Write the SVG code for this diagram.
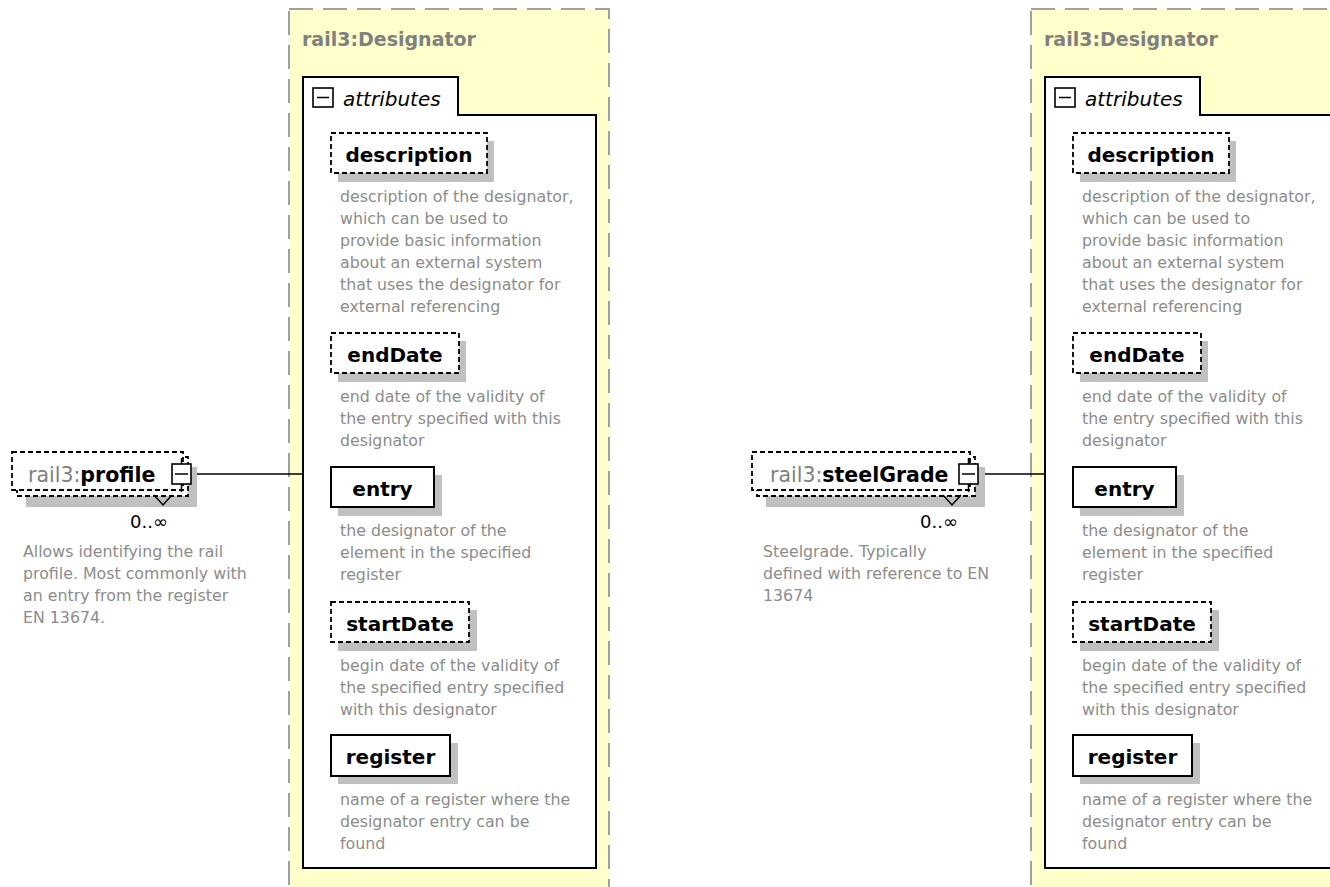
<svg xmlns="http://www.w3.org/2000/svg" width="1330" height="887" viewBox="0 0 1330 887">
<defs>
<style>
.panel{fill:#ffffcc;stroke:#a0a0a0;stroke-width:2;stroke-dasharray:24 10}
.inner{fill:#fff;stroke:#000;stroke-width:2}
.title{font-family:"DejaVu Sans",sans-serif;font-weight:bold;font-size:19px;fill:#808080}
.attr{font-family:"DejaVu Sans",sans-serif;font-style:italic;font-size:20px;fill:#000}
.shadow{fill:#c0c0c0}
.opt{fill:#fff;stroke:#000;stroke-width:1.8;stroke-dasharray:5 3}
.req{fill:#fff;stroke:#000;stroke-width:2}
.name{font-family:"DejaVu Sans",sans-serif;font-weight:bold;font-size:20px;fill:#000;text-anchor:middle}
.desc{font-family:"DejaVu Sans",sans-serif;font-size:15.8px;fill:#8c8c8c}
.pre{font-family:"DejaVu Sans",sans-serif;font-size:20.5px;fill:#808080}
.bold{font-weight:bold;fill:#000}
.mult{font-family:"DejaVu Sans",sans-serif;font-size:18px;fill:#000}
.icon{fill:#fff;stroke:#000;stroke-width:1.6}
.thin{fill:none;stroke:#000;stroke-width:1.5}
.conn{stroke:#000;stroke-width:1.5;fill:none}
</style>
<g id="designatorTpl">
<rect class="panel" x="289" y="9" width="320" height="900"/>
<text class="title" x="302" y="46">rail3:Designator</text>
<path class="inner" d="M303,115 V77 H458 V115 H596 V868 H303 Z"/>
<rect class="icon" x="313" y="88" width="20" height="19"/>
<line class="thin" x1="317" y1="97.5" x2="329" y2="97.5"/>
<text class="attr" x="343" y="106">attributes</text>
<rect class="shadow" x="338" y="141" width="156" height="41"/>
<rect class="opt" x="331" y="133" width="156" height="40"/>
<text class="name" x="409" y="162">description</text>
<text class="desc" x="340"><tspan x="340" y="202">description of the designator,</tspan><tspan x="340" y="224">which can be used to</tspan><tspan x="340" y="246">provide basic information</tspan><tspan x="340" y="268">about an external system</tspan><tspan x="340" y="290">that uses the designator for</tspan><tspan x="340" y="312">external referencing</tspan></text>
<rect class="shadow" x="338" y="341" width="128" height="41"/>
<rect class="opt" x="331" y="333" width="128" height="40"/>
<text class="name" x="395" y="362">endDate</text>
<text class="desc"><tspan x="340" y="402">end date of the validity of</tspan><tspan x="340" y="424">the entry specified with this</tspan><tspan x="340" y="446">designator</tspan></text>
<rect class="shadow" x="338" y="475" width="104" height="41"/>
<rect class="req" x="331" y="467" width="103" height="40"/>
<text class="name" x="382.5" y="496">entry</text>
<text class="desc"><tspan x="340" y="536">the designator of the</tspan><tspan x="340" y="558">element in the specified</tspan><tspan x="340" y="580">register</tspan></text>
<rect class="shadow" x="338" y="610" width="139" height="41"/>
<rect class="opt" x="331" y="602" width="138" height="40"/>
<text class="name" x="400" y="631">startDate</text>
<text class="desc"><tspan x="340" y="671">begin date of the validity of</tspan><tspan x="340" y="693">the specified entry specified</tspan><tspan x="340" y="715">with this designator</tspan></text>
<rect class="shadow" x="338" y="743" width="120" height="41"/>
<rect class="req" x="331" y="735" width="119" height="41"/>
<text class="name" x="390.5" y="764">register</text>
<text class="desc"><tspan x="340" y="805">name of a register where the</tspan><tspan x="340" y="827">designator entry can be</tspan><tspan x="340" y="849">found</tspan></text>
</g>
</defs>

<g id="designator1">
<use href="#designatorTpl"/>
</g>
<g id="designator2" transform="translate(742,0)">
<use href="#designatorTpl"/>
</g>

<g id="connectors">
<line class="conn" x1="192" y1="474" x2="303" y2="474"/>
<line class="conn" x1="979" y1="474" x2="1045" y2="474"/>
</g>

<g id="profile">
<rect class="shadow" x="26" y="467" width="171" height="40"/>
<rect class="opt" x="17" y="457" width="171" height="39"/>
<rect class="opt" x="12" y="452" width="171" height="38"/>
<polyline class="thin" points="154,495 163,505 172,495" stroke-width="1.2"/>
<text class="pre" x="28" y="482">rail3:<tspan class="bold">profile</tspan></text>
<line class="thin" x1="181.5" y1="458" x2="181.5" y2="492"/>
<rect class="icon" x="172" y="464" width="19" height="20"/>
<line class="thin" x1="175" y1="474" x2="188" y2="474"/>
<text class="mult" x="168" y="528" text-anchor="end">0..∞</text>
<text class="desc"><tspan x="23" y="557">Allows identifying the rail</tspan><tspan x="23" y="579">profile. Most commonly with</tspan><tspan x="23" y="601">an entry from the register</tspan><tspan x="23" y="623">EN 13674.</tspan></text>
</g>

<g id="steelGrade">
<rect class="shadow" x="766" y="467" width="219" height="40"/>
<rect class="opt" x="757" y="457" width="218" height="39"/>
<rect class="opt" x="752" y="452" width="218" height="38"/>
<polyline class="thin" points="943,495 952,505 961,495" stroke-width="1.2"/>
<text class="pre" x="770" y="482">rail3:<tspan class="bold">steelGrade</tspan></text>
<line class="thin" x1="968.5" y1="458" x2="968.5" y2="492"/>
<rect class="icon" x="959" y="464" width="19" height="20"/>
<line class="thin" x1="962" y1="474" x2="975" y2="474"/>
<text class="mult" x="958" y="528" text-anchor="end">0..∞</text>
<text class="desc"><tspan x="763" y="557">Steelgrade. Typically</tspan><tspan x="763" y="579">defined with reference to EN</tspan><tspan x="763" y="601">13674</tspan></text>
</g>
</svg>
